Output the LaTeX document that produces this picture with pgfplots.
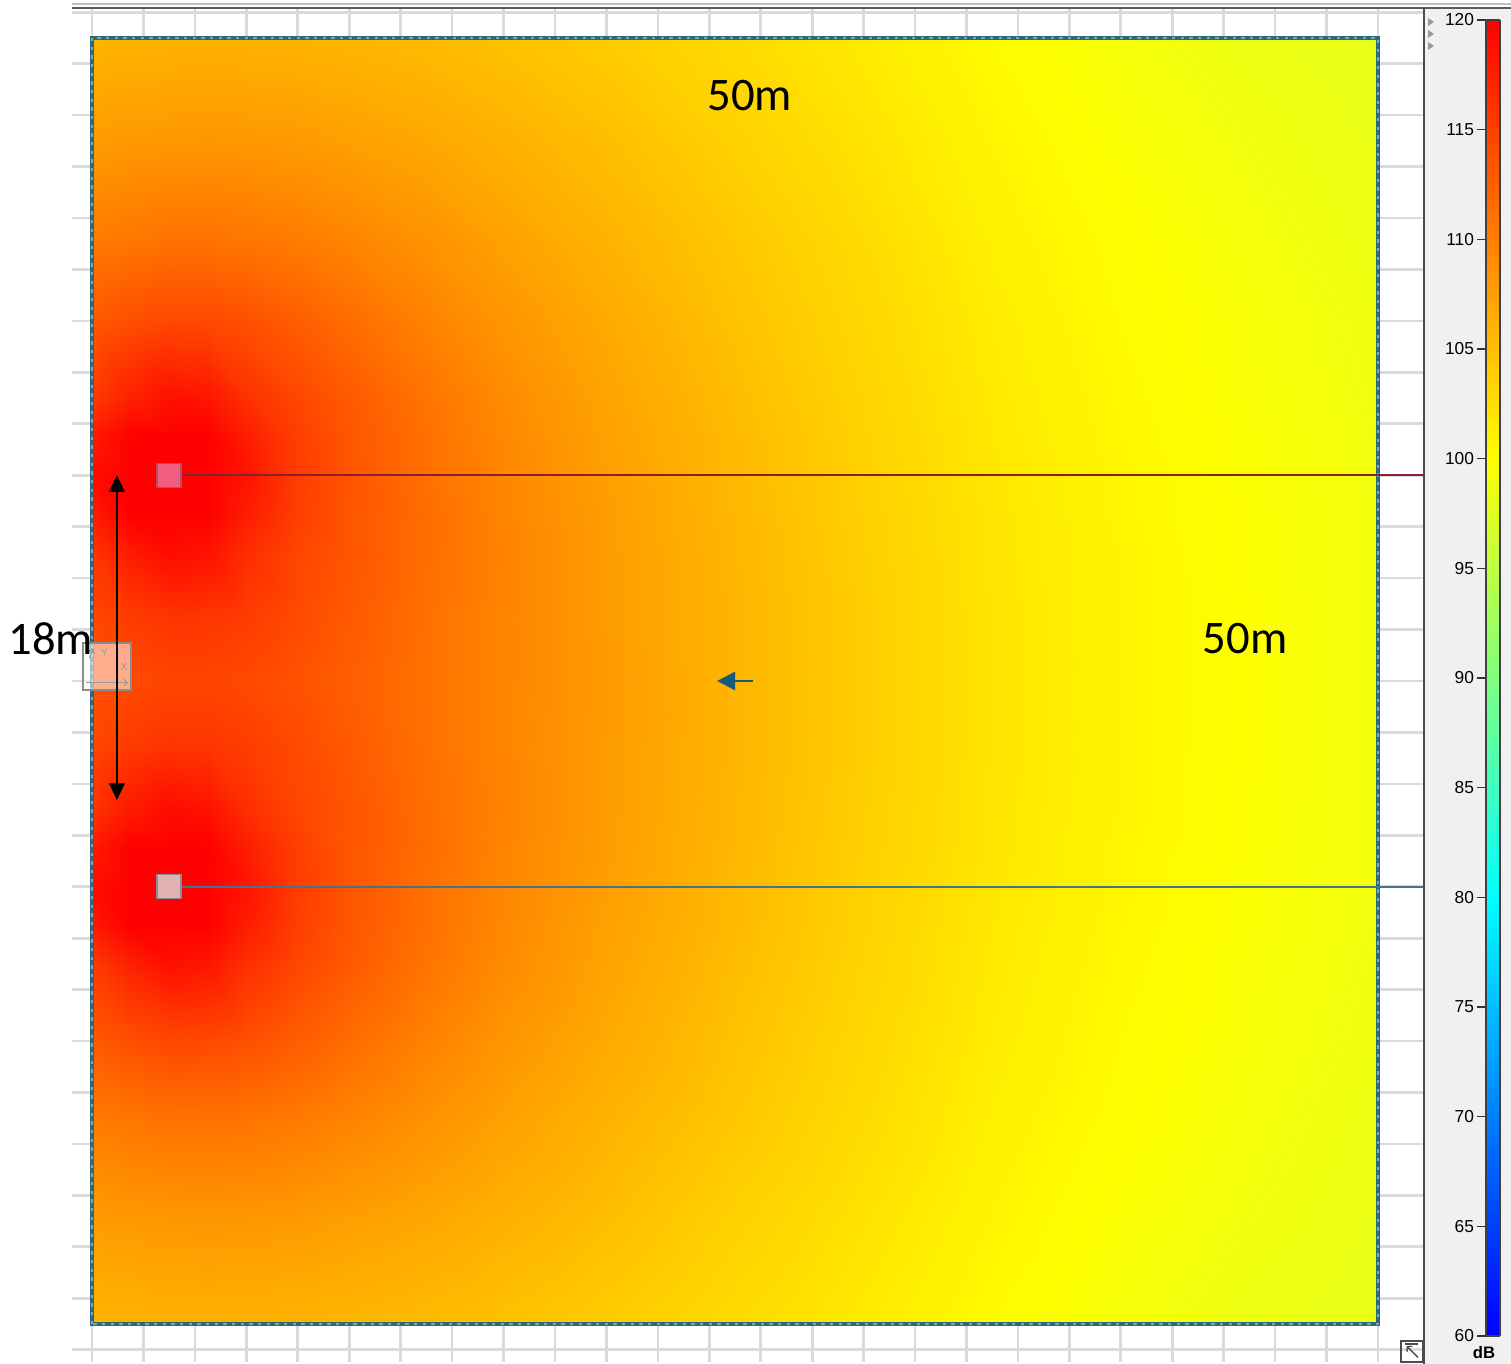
\documentclass[border=0pt]{standalone}
\usepackage{pgfplots}
\pgfplotsset{compat=1.18}
\usetikzlibrary{arrows.meta}
\usepackage{fontspec}
\setmainfont{Carlito}
\newfontfamily\arialf{Liberation Sans}
\definecolor{gridgray}{RGB}{218,218,218}
\definecolor{panelgray}{RGB}{240,240,240}
\definecolor{bordteal}{RGB}{45,105,125}
\definecolor{bordlight}{RGB}{125,168,178}
\definecolor{lineRed}{RGB}{140,30,50}
\definecolor{lineTeal}{RGB}{70,115,135}
\definecolor{srcA}{RGB}{240,95,125}
\definecolor{srcAb}{RGB}{185,75,100}
\definecolor{srcB}{RGB}{226,178,178}
\definecolor{srcBb}{RGB}{140,140,150}
\definecolor{arrTeal}{RGB}{25,90,120}
\pgfplotsset{colormap={dbmap}{rgb255(0cm)=(0,0,255) rgb255(20cm)=(0,255,255) rgb255(40cm)=(255,255,0) rgb255(60cm)=(255,0,0)}}
\pgfplotsset{mainbox/.style={at={(21.6pt,0.6pt)}, anchor=south west,
  width=405.6pt, height=406.2pt, scale only axis,
  xmin=-0.7776, xmax=51.788, ymin=-1.4774, ymax=51.1664}}
\begin{document}
\begin{tikzpicture}
\path[use as bounding box] (0,0) rectangle (453.3pt,409.2pt);
\fill[white] (0,0) rectangle (453.3pt,409.2pt);
\fill[panelgray] (427.2pt,0) rectangle (453.3pt,406.8pt);
% grid background
\begin{axis}[mainbox,
  xtick={0,2,...,50}, ytick={-1,1,...,51},
  xticklabel={\relax}, yticklabel={\relax},
  major tick length=0pt,
  grid=major, major grid style={line width=0.8pt, color=gridgray},
  axis line style={draw=none}]
\addplot[draw=none] coordinates {(0,0) (1,1)};
\end{axis}
% heat map
\begin{axis}[mainbox, view={0}{90}, hide axis,
  colormap name=dbmap, point meta min=60, point meta max=120]
\addplot3[surf, shader=interp, mesh/cols=16] table[x=x, y=y, z=z] {
x y z
0 0 105.8
1.5 0 105.9
3 0 106.0
4.5 0 106.1
6 0 106.0
8 0 105.9
10 0 105.7
13 0 105.3
16 0 104.8
20 0 104.0
25 0 102.8
30 0 101.6
35 0 100.3
40 0 99.3
45 0 98.6
50 0 98.1
0 4 107.8
1.5 4 108.0
3 4 108.1
4.5 4 108.2
6 4 108.1
8 4 107.9
10 4 107.5
13 4 106.9
16 4 106.1
20 4 105.1
25 4 103.6
30 4 102.2
35 4 100.8
40 4 99.7
45 4 99.0
50 4 98.4
0 8 110.4
1.5 8 110.8
3 8 111.1
4.5 8 111.1
6 8 110.9
8 8 110.4
10 8 109.7
13 8 108.6
16 8 107.4
20 8 106.0
25 8 104.4
30 8 102.8
35 8 101.2
40 8 100.1
45 8 99.3
50 8 98.6
0 11 113.1
1.5 11 113.9
3 11 114.4
4.5 11 114.3
6 11 113.8
8 11 112.7
10 11 111.5
13 11 109.8
16 11 108.3
20 11 106.7
25 11 104.8
30 11 103.1
35 11 101.5
40 11 100.3
45 11 99.5
50 11 98.8
0 14 115.5
1.5 14 117.5
3 14 118.8
4.5 14 118.3
6 14 116.3
8 14 114.5
10 14 113.0
13 14 110.9
16 14 109.1
20 14 107.2
25 14 105.2
30 14 103.4
35 14 101.7
40 14 100.5
45 14 99.6
50 14 98.9
0 15.5 118.0
1.5 15.5 122.5
3 15.5 126.1
4.5 15.5 123.7
6 15.5 117.8
8 15.5 115.1
10 15.5 113.3
13 15.5 111.2
16 15.5 109.3
20 15.5 107.4
25 15.5 105.4
30 15.5 103.5
35 15.5 101.8
40 15.5 100.6
45 15.5 99.7
50 15.5 99.0
0 17 119.0
1.5 17 125.2
3 17 130.0
4.5 17 126.9
6 17 118.5
8 17 115.2
10 17 113.4
13 17 111.2
16 17 109.5
20 17 107.6
25 17 105.5
30 17 103.6
35 17 101.9
40 17 100.7
45 17 99.7
50 17 99.0
0 18.5 118.0
1.5 18.5 122.5
3 18.5 126.1
4.5 18.5 123.7
6 18.5 117.8
8 18.5 115.1
10 18.5 113.3
13 18.5 111.5
16 18.5 109.6
20 18.5 107.7
25 18.5 105.6
30 18.5 103.7
35 18.5 102.0
40 18.5 100.7
45 18.5 99.8
50 18.5 99.1
0 20 116.0
1.5 20 118.0
3 20 119.2
4.5 20 118.6
6 20 116.5
8 20 114.5
10 20 113.4
13 20 111.4
16 20 109.7
20 20 107.8
25 20 105.7
30 20 103.8
35 20 102.0
40 20 100.8
45 20 99.8
50 20 99.1
0 22.5 114.5
1.5 22.5 115.4
3 22.5 115.9
4.5 22.5 115.8
6 22.5 115.3
8 22.5 114.2
10 22.5 113.0
13 22.5 111.2
16 22.5 109.6
20 22.5 107.8
25 22.5 105.8
30 22.5 103.9
35 22.5 102.1
40 22.5 100.8
45 22.5 99.9
50 22.5 99.1
0 25 113.7
1.5 25 114.2
3 25 114.6
4.5 25 114.6
6 25 114.3
8 25 113.6
10 25 112.6
13 25 111.1
16 25 109.6
20 25 107.9
25 25 105.8
30 25 103.9
35 25 102.1
40 25 100.8
45 25 99.9
50 25 99.1
0 27.5 114.5
1.5 27.5 115.4
3 27.5 115.9
4.5 27.5 115.8
6 27.5 115.3
8 27.5 114.2
10 27.5 113.0
13 27.5 111.2
16 27.5 109.6
20 27.5 107.8
25 27.5 105.8
30 27.5 103.9
35 27.5 102.1
40 27.5 100.8
45 27.5 99.9
50 27.5 99.1
0 30 116.0
1.5 30 118.0
3 30 119.2
4.5 30 118.6
6 30 116.5
8 30 114.5
10 30 113.4
13 30 111.4
16 30 109.7
20 30 107.8
25 30 105.7
30 30 103.8
35 30 102.0
40 30 100.8
45 30 99.8
50 30 99.1
0 31.5 118.0
1.5 31.5 122.5
3 31.5 126.1
4.5 31.5 123.7
6 31.5 117.8
8 31.5 115.1
10 31.5 113.3
13 31.5 111.5
16 31.5 109.6
20 31.5 107.7
25 31.5 105.6
30 31.5 103.7
35 31.5 102.0
40 31.5 100.7
45 31.5 99.8
50 31.5 99.1
0 33 119.0
1.5 33 125.2
3 33 130.0
4.5 33 126.9
6 33 118.5
8 33 115.2
10 33 113.4
13 33 111.2
16 33 109.5
20 33 107.6
25 33 105.5
30 33 103.6
35 33 101.9
40 33 100.7
45 33 99.7
50 33 99.0
0 34.5 118.0
1.5 34.5 122.5
3 34.5 126.1
4.5 34.5 123.7
6 34.5 117.8
8 34.5 115.1
10 34.5 113.3
13 34.5 111.2
16 34.5 109.3
20 34.5 107.4
25 34.5 105.4
30 34.5 103.5
35 34.5 101.8
40 34.5 100.6
45 34.5 99.7
50 34.5 99.0
0 36 115.5
1.5 36 117.5
3 36 118.8
4.5 36 118.3
6 36 116.3
8 36 114.5
10 36 113.0
13 36 110.9
16 36 109.1
20 36 107.2
25 36 105.2
30 36 103.4
35 36 101.7
40 36 100.5
45 36 99.6
50 36 98.9
0 39 113.1
1.5 39 113.9
3 39 114.4
4.5 39 114.3
6 39 113.8
8 39 112.7
10 39 111.5
13 39 109.8
16 39 108.3
20 39 106.7
25 39 104.8
30 39 103.1
35 39 101.5
40 39 100.3
45 39 99.5
50 39 98.8
0 42 110.4
1.5 42 110.8
3 42 111.1
4.5 42 111.1
6 42 110.9
8 42 110.4
10 42 109.7
13 42 108.6
16 42 107.4
20 42 106.0
25 42 104.4
30 42 102.8
35 42 101.2
40 42 100.1
45 42 99.3
50 42 98.6
0 46 107.8
1.5 46 108.0
3 46 108.1
4.5 46 108.2
6 46 108.1
8 46 107.9
10 46 107.5
13 46 106.9
16 46 106.1
20 46 105.1
25 46 103.6
30 46 102.2
35 46 100.8
40 46 99.7
45 46 99.0
50 46 98.4
0 50 105.8
1.5 50 105.9
3 50 106.0
4.5 50 106.1
6 50 106.0
8 50 105.9
10 50 105.7
13 50 105.3
16 50 104.8
20 50 104.0
25 50 102.8
30 50 101.6
35 50 100.3
40 50 99.3
45 50 98.6
50 50 98.1
};
\end{axis}
% overlays
\begin{axis}[mainbox, hide axis, clip=false]
\draw[line width=1.1pt, bordteal] (0,0) rectangle (50,50);
\draw[line width=0.4pt, bordlight, dash pattern=on 1pt off 1.6pt] (0,0) rectangle (50,50);
\addplot[lineRed, line width=0.6pt] coordinates {(3,33) (51.788,33)};
\addplot[lineTeal, line width=0.6pt] coordinates {(3,17) (51.788,17)};
\addplot[only marks, mark=square*, mark size=3.6pt, mark options={fill=srcA, draw=srcAb, line width=0.4pt}] coordinates {(3,33)};
\addplot[only marks, mark=square*, mark size=3.6pt, mark options={fill=srcB, draw=srcBb, line width=0.4pt}] coordinates {(3,17)};
\filldraw[fill=white, fill opacity=0.55, draw=black!45, line width=0.4pt] (-0.35,24.65) rectangle (1.52,26.48);
\node[text=black!40, font=\arialf\fontsize{3.2}{3.5}\selectfont, inner sep=0pt] at (0.48,26.1) {Y};
\node[text=black!40, font=\arialf\fontsize{3.2}{3.5}\selectfont, inner sep=0pt] at (1.25,25.55) {X};
\draw[black!40, line width=0.3pt, -{Straight Barb[length=1pt,width=2pt]}] (-0.25,24.94) -- (1.4,24.94);
\draw[black!40, line width=0.3pt, -{Straight Barb[length=1pt,width=2pt]}] (-0.1,25.9) -- (0.05,26.25);
\draw[black, line width=0.8pt, {Triangle[length=5pt,width=4.6pt]}-{Triangle[length=5pt,width=4.6pt]}] (0.97,33) -- (0.97,20.37);
\draw[arrTeal, line width=0.7pt, -{Triangle[length=5.4pt,width=5.4pt]}] (25.70,25) -- (24.30,25);
\node[font=\fontsize{14}{16}\selectfont, inner sep=0pt] at (25.58,47.78) {50m};
\node[font=\fontsize{14}{16}\selectfont, inner sep=0pt] at (44.83,26.65) {50m};
\node[font=\fontsize{14}{16}\selectfont, inner sep=0pt] at (-1.60,26.65) {18m};
\end{axis}
% frame lines
\draw[black!25, line width=0.4pt] (21.6pt,408.0pt) -- (453.3pt,408.0pt);
\draw[black!65, line width=0.6pt] (21.6pt,406.8pt) -- (453.3pt,406.8pt);
\draw[black!70, line width=0.6pt] (427.2pt,0) -- (427.2pt,406.8pt);
% colorbar
\begin{axis}[view={0}{90},
  at={(445.8pt,8.4pt)}, anchor=south west,
  width=4.2pt, height=394.8pt, scale only axis,
  xmin=0, xmax=1, ymin=60, ymax=120,
  xtick=\empty, ytick={60,65,...,120}, ztick=\empty,
  ytick pos=left, tick align=outside, major tick length=2.6pt,
  tick style={black!80, line width=0.4pt},
  yticklabel style={font=\arialf\fontsize{5.2}{6}\selectfont, inner sep=0.8pt},
  /pgf/number format/assume math mode=true,
  axis line style={draw=black!75, line width=0.5pt},
  colormap name=dbmap, point meta min=60, point meta max=120]
\addplot3[surf, shader=interp] coordinates {(0,60,60) (1,60,60)

(0,120,120) (1,120,120)};
\end{axis}
\node[font=\arialf\bfseries\fontsize{5}{6}\selectfont, inner sep=0pt] at (445.2pt,3.3pt) {dB};
\foreach \yy in {402.6pt,399.0pt,395.4pt} {
  \fill[black!40] (428.4pt,\yy+1.2pt) -- (430.2pt,\yy) -- (428.4pt,\yy-1.2pt) -- cycle;
}
\draw[black!70, line width=0.4pt] (420.3pt,0.6pt) rectangle (426.9pt,6.9pt);
\draw[black!70, line width=0.4pt, -{Straight Barb[length=1pt,width=2.2pt]}] (425.4pt,2.0pt) -- (422.0pt,5.4pt);
\draw[black!70, line width=0.4pt] (421.6pt,6.0pt) -- (425.4pt,6.0pt);
\end{tikzpicture}
\end{document}
